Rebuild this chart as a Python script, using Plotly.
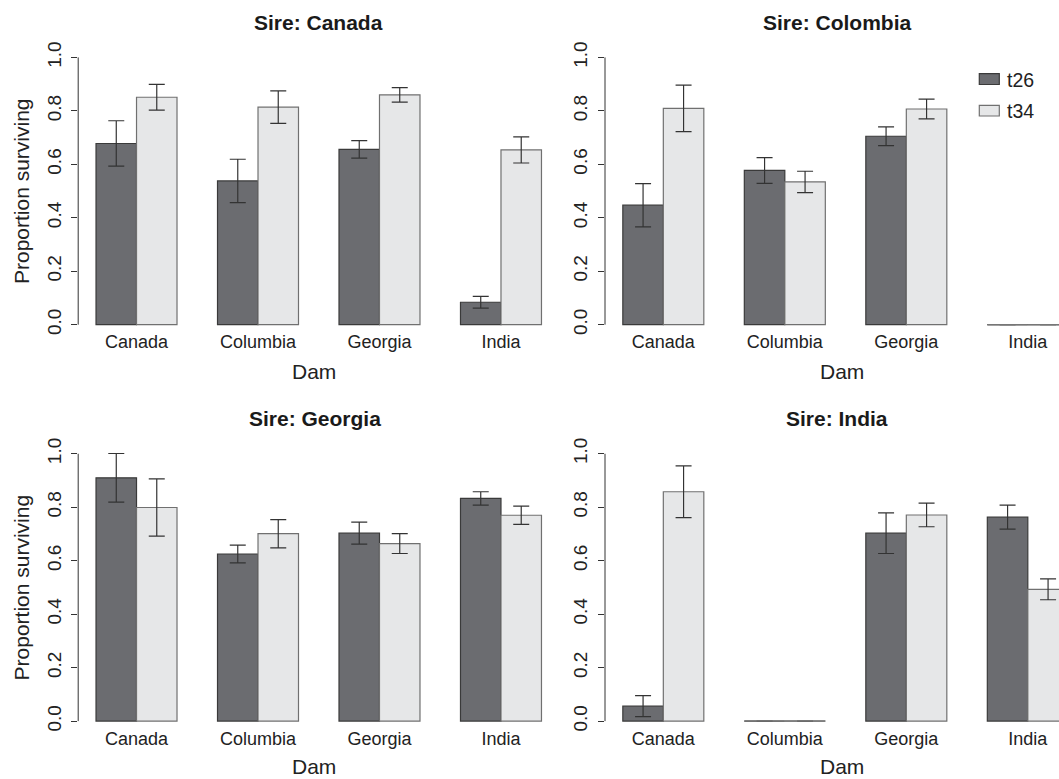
import plotly.graph_objects as go

# ---------------- data ----------------
dams = ["Canada", "Columbia", "Georgia", "India"]
sires = ["Canada", "Colombia", "Georgia", "India"]
series_names = ["t26", "t34"]

canada_t26 = [0.678, 0.538, 0.656, 0.084]
canada_t26_err = [0.085, 0.081, 0.033, 0.022]
canada_t34 = [0.851, 0.814, 0.860, 0.654]
canada_t34_err = [0.048, 0.061, 0.027, 0.049]

colombia_t26 = [0.447, 0.577, 0.705, 0.0]
colombia_t26_err = [0.081, 0.048, 0.035, 0.0]
colombia_t34 = [0.809, 0.534, 0.807, 0.0]
colombia_t34_err = [0.087, 0.040, 0.037, 0.0]

georgia_t26 = [0.910, 0.625, 0.703, 0.833]
georgia_t26_err = [0.091, 0.033, 0.041, 0.025]
georgia_t34 = [0.799, 0.701, 0.664, 0.770]
georgia_t34_err = [0.107, 0.053, 0.037, 0.034]

india_t26 = [0.056, 0.0, 0.703, 0.763]
india_t26_err = [0.039, 0.0, 0.076, 0.045]
india_t34 = [0.858, 0.0, 0.771, 0.493]
india_t34_err = [0.097, 0.0, 0.044, 0.039]

y_ticks = [0.0, 0.2, 0.4, 0.6, 0.8, 1.0]
y_ticklabels = ["0.0", "0.2", "0.4", "0.6", "0.8", "1.0"]

# ---------------- styling / layout ----------------
W, H = 1059, 779
FONT = "Liberation Sans, Arial, Helvetica, sans-serif"
TXT = "#222222"
fills = ["#6b6c70", "#e6e7e8"]
edges = ["#3a3a3a", "#707070"]
ERR = "#333333"


def fx(p):
    return p / W


def fy(p):
    return 1 - p / H


panel_data = [
    [(canada_t26, canada_t26_err), (canada_t34, canada_t34_err)],
    [(colombia_t26, colombia_t26_err), (colombia_t34, colombia_t34_err)],
    [(georgia_t26, georgia_t26_err), (georgia_t34, georgia_t34_err)],
    [(india_t26, india_t26_err), (india_t34, india_t34_err)],
]

# pixel geometry of each panel: (x_left, x_right, y_top, y_bottom)
panel_px = [
    (78.2, 559.3, 42.0, 332.5),
    (605.0, 1059.0, 42.0, 332.5),
    (78.2, 559.3, 440.9, 731.5),
    (605.0, 1059.0, 440.9, 731.5),
]
px_per_cat = 121.5
title_px = [(318, 17.5), (837.5, 17.5), (315, 416), (837, 416)]
dam_px = [(314, 369), (842, 369), (314, 766), (842, 766)]

fig = go.Figure()
annotations = []
shapes = []

for k, (sire, series) in enumerate(zip(sires, panel_data)):
    xa = "x" if k == 0 else f"x{k+1}"
    ya = "y" if k == 0 else f"y{k+1}"
    idx = list(range(len(dams)))
    for s, (vals, errs) in enumerate(series):
        fig.add_trace(go.Bar(
            x=idx, y=vals, width=1 / 3, offset=-1 / 3 + s / 3,
            name=series_names[s], showlegend=False,
            marker=dict(color=fills[s], line=dict(color=edges[s], width=1.2)),
            error_y=dict(type="data", array=errs, visible=True,
                         color=ERR, thickness=1.2, width=8),
            xaxis=xa, yaxis=ya,
        ))
        # zero-height bars still show their outline in the reference
        zx, zy = [], []
        for i, v in enumerate(vals):
            if v == 0:
                zx += [i - 1 / 3 + s / 3, i + s / 3, None]
                zy += [0, 0, None]
        if zx:
            fig.add_trace(go.Scatter(
                x=zx, y=zy, mode="lines", showlegend=False, hoverinfo="skip",
                line=dict(color="#777777", width=1.5), xaxis=xa, yaxis=ya,
            ))

    xl, xr, yt, yb = panel_px[k]
    xsuf = "" if k == 0 else str(k + 1)
    x_lo = -0.48
    x_hi = x_lo + (xr - xl) / px_per_cat if k in (1, 3) else 3.48
    fig.update_layout(**{
        f"xaxis{xsuf}": dict(
            domain=[fx(xl), fx(xr)], anchor="free", position=fy(yb - 6),
            range=[x_lo, x_hi],
            tickmode="array", tickvals=idx, ticktext=dams,
            showgrid=False, zeroline=False, showline=False, ticks="", ticklen=0,
            tickfont=dict(family=FONT, size=18, color=TXT),
            fixedrange=True,
        ),
        f"yaxis{xsuf}": dict(
            domain=[fy(yb), fy(yt)], anchor=xa, range=[-0.04, 1.04],
            tickmode="array", tickvals=y_ticks, ticktext=y_ticklabels,
            tickangle=-90, ticks="outside", ticklen=6, tickwidth=1,
            tickcolor="#333333", showgrid=False, zeroline=False, showline=False,
            tickfont=dict(family=FONT, size=19, color=TXT),
            ticklabelstandoff=3, fixedrange=True,
        ),
    })
    # R-style axis line spanning 0..1 only
    shapes.append(dict(type="line", xref=f"{xa} domain", yref=ya,
                       x0=0, x1=0, y0=0, y1=1,
                       line=dict(color="#333333", width=1)))
    tx, ty = title_px[k]
    annotations.append(dict(text=f"<b>Sire: {sire}</b>", x=fx(tx), y=fy(ty),
                            xref="paper", yref="paper", showarrow=False,
                            xanchor="center", yanchor="middle",
                            font=dict(family=FONT, size=21, color="#1a1a1a")))
    dx, dy = dam_px[k]
    annotations.append(dict(text="Dam", x=fx(dx), y=fy(dy),
                            xref="paper", yref="paper", showarrow=False,
                            xanchor="center", yanchor="middle",
                            font=dict(family=FONT, size=21, color=TXT)))
    if k in (0, 2):
        annotations.append(dict(text="Proportion surviving", x=fx(21),
                                y=fy((yt + yb) / 2), xref="paper", yref="paper",
                                showarrow=False, textangle=-90,
                                xanchor="center", yanchor="middle",
                                font=dict(family=FONT, size=21, color=TXT)))

# legend (top-right panel)
leg_rows = [(69.0, 80.0, 75.0), (101.0, 111.7, 106.5)]
for s, (y0, y1, yc) in enumerate(leg_rows):
    shapes.append(dict(type="rect", xref="paper", yref="paper",
                       x0=fx(979.3), x1=fx(999.3), y0=fy(y1), y1=fy(y0),
                       fillcolor=fills[s], line=dict(color=edges[s], width=1.2)))
    annotations.append(dict(text=series_names[s], x=fx(1005), y=fy(yc),
                            xref="paper", yref="paper", showarrow=False,
                            xanchor="left", yanchor="middle",
                            font=dict(family=FONT, size=19.5, color=TXT)))

fig.update_layout(
    width=W, height=H, autosize=False,
    margin=dict(l=0, r=0, t=0, b=0),
    paper_bgcolor="white", plot_bgcolor="white",
    barmode="overlay", showlegend=False, hovermode=False,
    annotations=annotations, shapes=shapes,
    font=dict(family=FONT, color=TXT),
)

fig.write_html(
    "out.html",
    config={"displayModeBar": False, "staticPlot": True},
    post_script="document.body.style.margin='0';document.body.style.overflow='hidden';",
)
